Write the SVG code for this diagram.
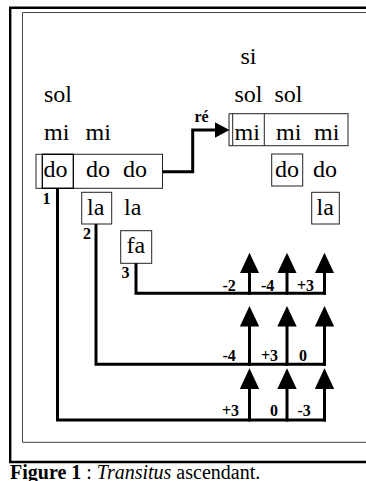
<svg xmlns="http://www.w3.org/2000/svg" width="366" height="481" viewBox="0 0 366 481">
<style>
.n{font-family:"Liberation Serif","Times New Roman",serif;font-size:24px;fill:#000}
.b{font-family:"Liberation Serif","Times New Roman",serif;font-size:16px;font-weight:bold;fill:#000}
.box{fill:none;stroke:#222;stroke-width:1}
.ibox{fill:none;stroke:#000;stroke-width:1.3}
.c{fill:none;stroke:#000;stroke-width:3;stroke-linejoin:miter}
.cap{font-family:"Liberation Serif","Times New Roman",serif;font-size:20px;fill:#000}
</style>
<defs>
<marker id="up" markerUnits="userSpaceOnUse" markerWidth="21" markerHeight="20" viewBox="0 0 21 20" refX="1" refY="9.7" orient="auto">
<path d="M0,0 L20.6,9.7 L0,19.4 z" fill="#000"/>
</marker>
<marker id="re" markerUnits="userSpaceOnUse" markerWidth="16" markerHeight="16" viewBox="0 0 16 16" refX="0.5" refY="8" orient="auto">
<path d="M0,0 L15,8 L0,16 z" fill="#000"/>
</marker>
</defs>
<rect width="366" height="481" fill="#fff"/>
<g id="frame">
<path d="M366,7.8 H10.2 V462 H366" fill="none" stroke="#000" stroke-width="2.4"/>
<path d="M366,12.5 H22.5 V442.3 H366" fill="none" stroke="#444" stroke-width="1"/>
</g>
<g id="left-chord">
<text class="n" x="44" y="101.5">sol</text>
<text class="n" x="44" y="139.5">mi</text>
<text class="n" x="85.5" y="139.5">mi</text>
<rect class="box" x="36" y="154.3" width="126.5" height="34"/>
<rect class="ibox" x="42.3" y="154.3" width="31" height="34"/>
<text class="n" x="43.5" y="177">do</text>
<text class="n" x="86" y="177">do</text>
<text class="n" x="123" y="177">do</text>
<text class="b" x="42.5" y="204">1</text>
</g>
<g id="la-node">
<rect class="box" x="81.7" y="192.3" width="30" height="31.7"/>
<text class="n" x="87" y="215">la</text>
<text class="n" x="124" y="215">la</text>
<text class="b" x="83" y="239">2</text>
</g>
<g id="fa-node">
<rect class="box" x="120.7" y="230.7" width="31" height="32.6"/>
<text class="n" x="126.5" y="253">fa</text>
<text class="b" x="121.5" y="278">3</text>
</g>
<g id="right-chord">
<text class="n" x="240.5" y="63.5">si</text>
<text class="n" x="234.5" y="101.5">sol</text>
<text class="n" x="274.5" y="101.5">sol</text>
<rect class="box" x="229" y="113.7" width="119" height="32"/>
<line class="box" x1="232.7" y1="113.7" x2="232.7" y2="145.7"/>
<line class="box" x1="264.3" y1="113.7" x2="264.3" y2="145.7"/>
<text class="n" x="234.5" y="139.5">mi</text>
<text class="n" x="276" y="139.5">mi</text>
<text class="n" x="314" y="139.5">mi</text>
<rect class="box" x="271.7" y="154" width="31" height="32"/>
<text class="n" x="275" y="177">do</text>
<text class="n" x="313" y="177">do</text>
<rect class="box" x="311.7" y="192.3" width="27.6" height="31.7"/>
<text class="n" x="316.5" y="215">la</text>
</g>
<g id="connectors">
<path class="c" d="M162.5,171.7 H192.7 V130 H215" marker-end="url(#re)"/>
<path class="c" d="M136,263.3 V293.3 H326"/>
<path class="c" d="M96,224 V364.3 H326"/>
<path class="c" d="M57.5,188.3 V420 H326"/>
<path class="c" d="M249.5,294.8 V272.3" marker-end="url(#up)"/>
<path class="c" d="M287,294.8 V272.3" marker-end="url(#up)"/>
<path class="c" d="M324.5,294.8 V272.3" marker-end="url(#up)"/>
<path class="c" d="M249.5,365.8 V325.6" marker-end="url(#up)"/>
<path class="c" d="M287,365.8 V325.6" marker-end="url(#up)"/>
<path class="c" d="M324.5,365.8 V325.6" marker-end="url(#up)"/>
<path class="c" d="M249.5,421.5 V387.9" marker-end="url(#up)"/>
<path class="c" d="M287,421.5 V387.9" marker-end="url(#up)"/>
<path class="c" d="M324.5,421.5 V387.9" marker-end="url(#up)"/>
</g>
<g id="labels">
<text class="b" x="194.5" y="122">ré</text>
<text class="b" x="222.5" y="290.5">-2</text>
<text class="b" x="261" y="290.5">-4</text>
<text class="b" x="297" y="290.5">+3</text>
<text class="b" x="222.5" y="361">-4</text>
<text class="b" x="261" y="361">+3</text>
<text class="b" x="299" y="361">0</text>
<text class="b" x="222" y="416">+3</text>
<text class="b" x="270" y="416">0</text>
<text class="b" x="297.5" y="416">-3</text>
</g>
<text class="cap" x="10" y="478.5"><tspan font-weight="bold">Figure 1</tspan> : <tspan font-style="italic">Transitus</tspan> ascendant.</text>
</svg>
